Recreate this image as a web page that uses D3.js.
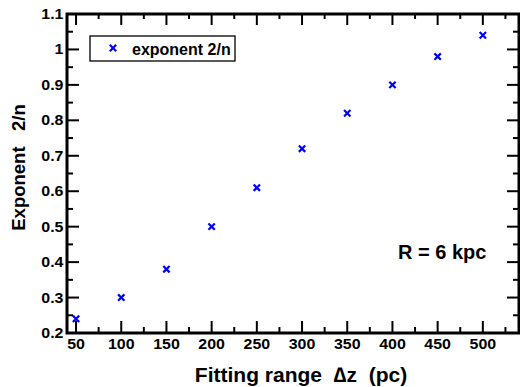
<!DOCTYPE html>
<html>
<head>
<meta charset="utf-8">
<script src="https://cdn.jsdelivr.net/npm/d3@7"></script>
<style>
  body { margin: 0; background: #fff; }
  text { font-family: "Liberation Sans", Arial, sans-serif; font-weight: bold; fill: #000; }
</style>
</head>
<body>
<svg id="chart" width="520" height="387"></svg>
<script>
// data
const fittingRange = [50, 100, 150, 200, 250, 300, 350, 400, 450, 500];
const exponent = [0.24, 0.30, 0.38, 0.50, 0.61, 0.72, 0.82, 0.90, 0.98, 1.04];
const xTicks = [50, 100, 150, 200, 250, 300, 350, 400, 450, 500];
const yTicks = [0.2, 0.3, 0.4, 0.5, 0.6, 0.7, 0.8, 0.9, 1.0, 1.1];
const yTickLabels = ["0.2", "0.3", "0.4", "0.5", "0.6", "0.7", "0.8", "0.9", "1", "1.1"];

const svg = d3.select("#chart");
const pLeft = 67, pRight = 519, pTop = 14, pBottom = 333;

const x = d3.scaleLinear().domain([40, 540]).range([pLeft, pRight]);
const y = d3.scaleLinear().domain([0.2, 1.1]).range([pBottom, pTop]);

// minor ticks
const xMinor = d3.range(75, 540, 50);
const yMinor = d3.range(0.25, 1.1, 0.1);

const g = svg.append("g");

// helper for inward tick lines
const tickLines = (data, x1, x2, y1, y2) => {
  g.append("g").selectAll("line").data(data).enter().append("line")
    .attr("x1", x1).attr("x2", x2)
    .attr("y1", y1).attr("y2", y2)
    .attr("stroke", "#000").attr("stroke-width", 2);
};

// bottom + top
tickLines(xTicks, d => x(d), d => x(d), pBottom, pBottom - 12);
tickLines(xMinor, d => x(d), d => x(d), pBottom, pBottom - 6);
tickLines(xTicks, d => x(d), d => x(d), pTop, pTop + 11);
tickLines(xMinor, d => x(d), d => x(d), pTop, pTop + 5);
// left + right
tickLines(yTicks, pLeft, pLeft + 12, d => y(d), d => y(d));
tickLines(yMinor, pLeft, pLeft + 6, d => y(d), d => y(d));
tickLines(yTicks, pRight, pRight - 12, d => y(d), d => y(d));
tickLines(yMinor, pRight, pRight - 6, d => y(d), d => y(d));

// frame
g.append("rect")
  .attr("x", pLeft).attr("y", pTop)
  .attr("width", pRight - pLeft).attr("height", pBottom - pTop)
  .attr("fill", "none").attr("stroke", "#000").attr("stroke-width", 3);

// tick labels (slightly wide glyphs like the original)
g.selectAll(".xl").data(xTicks).enter().append("text")
  .attr("transform", d => `translate(${x(d)},348.5) scale(1.1,1)`)
  .attr("text-anchor", "middle").attr("font-size", 14.5)
  .text(d => d);
g.selectAll(".yll").data(yTicks).enter().append("text")
  .attr("transform", d => `translate(63.5,${y(d) + 5}) scale(1.1,1)`)
  .attr("text-anchor", "end").attr("font-size", 14.5)
  .text((d, i) => yTickLabels[i]);

// axis titles
svg.append("text")
  .attr("x", 301).attr("y", 381.5)
  .attr("text-anchor", "middle").attr("font-size", 21)
  .attr("xml:space", "preserve")
  .text("Fitting range  \u2206z  (pc)");
svg.append("text")
  .attr("transform", "translate(25,167.5) rotate(-90)")
  .attr("text-anchor", "middle").attr("font-size", 18.5)
  .attr("xml:space", "preserve")
  .text("Exponent   2/n");

// markers
const cross = d3.symbol().type(d3.symbolX).size(28);
svg.selectAll(".pt").data(fittingRange).enter().append("path")
  .attr("d", cross)
  .attr("transform", (d, i) => `translate(${x(d)},${y(exponent[i])})`)
  .attr("fill", "none").attr("stroke", "#0000ff").attr("stroke-width", 2.2);

// legend
svg.append("rect")
  .attr("x", 90).attr("y", 36).attr("width", 145).attr("height", 25)
  .attr("fill", "#fff").attr("stroke", "#000").attr("stroke-width", 1.3);
svg.append("path")
  .attr("d", cross)
  .attr("transform", "translate(113,48)")
  .attr("fill", "none").attr("stroke", "#0000ff").attr("stroke-width", 2.2);
svg.append("text")
  .attr("x", 132).attr("y", 55).attr("font-size", 16)
  .text("exponent 2/n");

// annotation
svg.append("text")
  .attr("x", 398).attr("y", 258.5).attr("font-size", 20)
  .text("R = 6 kpc");
</script>
</body>
</html>
